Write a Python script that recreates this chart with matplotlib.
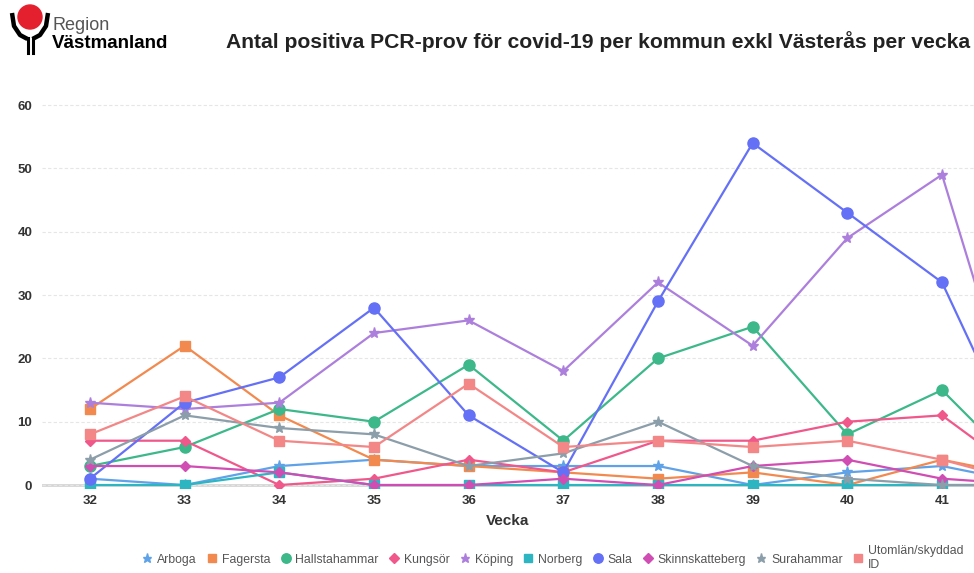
import numpy as np
import matplotlib
matplotlib.use("Agg")
import matplotlib.pyplot as plt
from matplotlib.patches import Circle

plt.rcParams['font.family'] = ['Liberation Sans', 'DejaVu Sans']

# Data (week 42 is incomplete, all series drop off)
veckor = [32, 33, 34, 35, 36, 37, 38, 39, 40, 41, 42]
arboga = [1, 0, 3, 4, 3, 3, 3, 0, 2, 3, 0]
fagersta = [12, 22, 11, 4, 3, 2, 1, 2, 0, 4, 1]
hallstahammar = [3, 6, 12, 10, 19, 7, 20, 25, 8, 15, 0]
kungsor = [7, 7, 0, 1, 4, 2, 7, 7, 10, 11, 0]
koping = [13, 12, 13, 24, 26, 18, 32, 22, 39, 49, 0]
norberg = [0, 0, 2, 0, 0, 0, 0, 0, 0, 0, 0]
sala = [1, 13, 17, 28, 11, 2, 29, 54, 43, 32, 0]
skinnskatteberg = [3, 3, 2, 0, 0, 1, 0, 3, 4, 1, 0]
surahammar = [4, 11, 9, 8, 3, 5, 10, 3, 1, 0, 0]
utomlan = [8, 14, 7, 6, 16, 6, 7, 6, 7, 4, 0]

series = [
    ("Arboga", arboga, "#5fa2e8", "*", 8),
    ("Fagersta", fagersta, "#f28a4f", "s", 7),
    ("Hallstahammar", hallstahammar, "#3cb88a", "o", 8),
    ("Kungsör", kungsor, "#f0588b", "D", 5.5),
    ("Köping", koping, "#ad7fdc", "*", 8),
    ("Norberg", norberg, "#2db5c1", "s", 7),
    ("Sala", sala, "#6470f5", "o", 8),
    ("Skinnskatteberg", skinnskatteberg, "#d04db4", "D", 5.5),
    ("Surahammar", surahammar, "#8b9ea9", "*", 8),
    ("Utomlän/skyddad\nID", utomlan, "#f38787", "s", 7),
]

fig = plt.figure(figsize=(9.74, 5.73), dpi=100)
ax = fig.add_axes([0.0431, 0.148, 0.9569, 0.6797])

handles = []
for name, vals, col, mk, ms in series:
    ax.plot(veckor, vals, color=col, lw=1.6, marker=mk, ms=ms, clip_on=True, zorder=3)
    h, = ax.plot([], [], color=col, marker=mk, ms=ms * 0.85, ls='none', label=name)
    handles.append(h)

ax.set_xlim(31.493, 41.338)
ax.set_ylim(-0.5, 61)
ax.set_yticks(range(0, 61, 10))
ax.set_xticks(range(32, 42))
for s in ax.spines.values():
    s.set_visible(False)
ax.grid(axis='y', color='#e6e6e6', lw=0.8, ls=(0, (3, 2)))
ax.axhline(0, color='#d5d5d5', lw=2, zorder=1)
ax.tick_params(length=0, labelsize=9.5, labelcolor='#333333', pad=5)
for lab in ax.get_xticklabels() + ax.get_yticklabels():
    lab.set_fontweight('bold')
ax.tick_params(axis='y', pad=7)
ax.set_xlabel("Vecka", fontsize=11, fontweight='bold', color='#333333', labelpad=5)

fig.text(0.9965, 0.928, "Antal positiva PCR-prov för covid-19 per kommun exkl Västerås per vecka",
         ha='right', va='center', fontsize=15.2, fontweight='bold', color='#222222')

leg = fig.legend(handles=handles, loc='center', bbox_to_anchor=(0.567, 0.026),
                 ncol=10, frameon=False, fontsize=8.8, handletextpad=0.3, columnspacing=0.75,
                 handlelength=1.0, labelcolor='#555555')

# logo
lax = fig.add_axes([0, 1 - 60 / 573, 200 / 974, 60 / 573])
lax.set_xlim(0, 200)
lax.set_ylim(60, 0)
lax.axis('off')
lax.add_patch(Circle((30, 17), 12, color='#e4202e', zorder=2))
lax.plot([12, 14, 20, 27.5], [13, 26, 35, 39], color='black', lw=3.2, solid_capstyle='butt', zorder=1)
lax.plot([48, 46, 40, 32.5], [13, 26, 35, 39], color='black', lw=3.2, solid_capstyle='butt', zorder=1)
lax.plot([27.5, 27.5], [38, 53], color='black', lw=2.2)
lax.plot([32.5, 32.5], [38, 53], color='black', lw=2.2)
lax.text(53, 26, "Region", fontsize=13, color='#555555', va='center', ha='left')
lax.text(52, 44, "Västmanland", fontsize=13.5, color='black', fontweight='bold', va='center', ha='left')

fig.savefig("out.png", dpi=100)
